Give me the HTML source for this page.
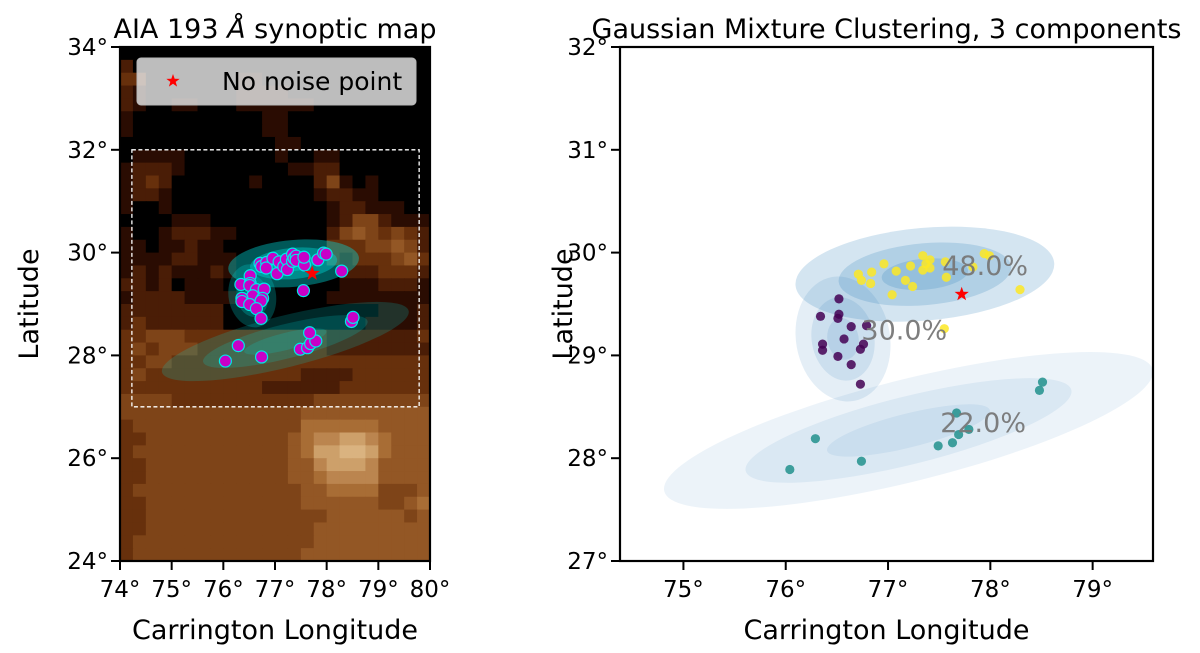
<!DOCTYPE html>
<html><head><meta charset="utf-8"><style>
html,body{margin:0;padding:0;background:#fff;}
svg{display:block;font-family:"DejaVu Sans","Liberation Sans",sans-serif;}
</style></head><body>
<svg id="fig" width="1200" height="653" viewBox="0 0 1200 653" xmlns="http://www.w3.org/2000/svg">
<defs>
<clipPath id="clipL"><rect x="120" y="47" width="310" height="514"/></clipPath>
<clipPath id="clipR"><rect x="620" y="47" width="533" height="514"/></clipPath>
</defs>
<g id="left"></g>
<g id="right"></g>
</svg>
<script>
// ---- data ----
const mapRows = [
"000000000000000000000000",
"200000000000000000000000",
"330000000110000000000000",
"210000000111100000000000",
"210011000111111000000000",
"100000000001100000000000",
"100000000001100000000000",
"000000000000110000000000",
"011110000000100110000000",
"122210000000011220000000",
"123200000010000241010000",
"122100000000000122110000",
"100100000000000012211100",
"000011100000000012442111",
"100122211000000024543432",
"110112110000000033344542",
"111122111000000032333453",
"121211121000000002223332",
"221201110000000001112221",
"122221111000000011111111",
"222222220000000000001112",
"232222220000000000011112",
"334443333333333322222223",
"343444333333333322222222",
"334433333333333333333333",
"343333333333332222333333",
"333333333332222223333333",
"444433333333333444444444",
"444444444444445555555555",
"344444444444446666665555",
"334444444444456778876555",
"344444444444456889986555",
"334444444444455788875555",
"334444444444455677775555",
"344444444444445566664445",
"334444444444445555554456",
"334444444444444455555545",
"334444444444444555555555",
"344444444444444555555555",
"344444444444445555555555"];
const mapColors = ["#000000","#2a0c02","#4a1d06","#67300c","#7e4418","#935725","#a86d35","#bb854f","#cda06a","#dab380"];

const yelLon = [76.71,76.74,76.84,76.83,76.96,77.04,77.08,77.17,77.22,77.24,77.34,77.34,77.37,77.41,77.41,77.57,77.56,77.83,77.94,77.99,78.29,77.55];
const yelLat = [29.79,29.73,29.81,29.70,29.89,29.59,29.82,29.73,29.87,29.67,29.97,29.83,29.89,29.93,29.85,29.76,29.91,29.86,29.99,29.97,29.64,29.26];
const purLon = [76.52,76.34,76.52,76.51,76.64,76.79,76.57,76.36,76.36,76.76,76.73,76.51,76.64,76.73];
const purLat = [29.55,29.38,29.40,29.36,29.28,29.29,29.16,29.11,29.05,29.11,29.06,28.99,28.91,28.72];
const tealLon = [76.29,76.04,76.74,77.49,77.63,77.69,77.79,77.67,78.48,78.51];
const tealLat = [28.19,27.89,27.97,28.12,28.15,28.23,28.28,28.44,28.66,28.74];
const starLon = 77.72, starLat = 29.595;

const compLon = [77.36, 76.56, 77.20];
const compLat = [29.79, 29.16, 28.27];
const compSx = [0.423, 0.153, 0.82];
const compSy = [0.151, 0.205, 0.166];
const compAng = [-5, -10, -14];
const compWeight = [0.48, 0.30, 0.22];
const compLabel = ["48.0%","30.0%","22.0%"];
const labelLon = [77.53, 76.74, 77.51];
const labelLat = [29.88, 29.25, 28.35];

const leftXTicks = [74,75,76,77,78,79,80];
const leftYTicks = [24,26,28,30,32,34];
const rightXTicks = [75,76,77,78,79];
const rightYTicks = [27,28,29,30,31,32];

// ---- axes ----
const L = {x0:120,x1:430,y0:47,y1:561,lon0:74,lon1:80,lat0:24,lat1:34};
const R = {x0:620,x1:1153,y0:47,y1:561,lon0:74.38,lon1:79.59,lat0:27,lat1:32};
function sx(A,lon){return A.x0+(lon-A.lon0)/(A.lon1-A.lon0)*(A.x1-A.x0);}
function sy(A,lat){return A.y1-(lat-A.lat0)/(A.lat1-A.lat0)*(A.y1-A.y0);}
const NS="http://www.w3.org/2000/svg";
function mk(tag,attrs,parent){const e=document.createElementNS(NS,tag);for(const k in attrs)e.setAttribute(k,attrs[k]);parent.appendChild(e);return e;}
function starPath(cx,cy,r){let d="";for(let i=0;i<10;i++){const rr=i%2?r*0.4:r;const a=-Math.PI/2+i*Math.PI/5;d+=(i?"L":"M")+(cx+rr*Math.cos(a)).toFixed(2)+","+(cy+rr*Math.sin(a)).toFixed(2);}return d+"Z";}

const gl=document.getElementById('left');
const gr=document.getElementById('right');

// ---- left map ----
const mapG=mk('g',{'clip-path':'url(#clipL)'},gl);


const nR=mapRows.length,nC=mapRows[0].length;
const cw=(L.x1-L.x0)/nC,ch=(L.y1-L.y0)/nR;
for(let r=0;r<nR;r++)for(let c=0;c<nC;c++){
  const cell=mk('rect',{x:(L.x0+c*cw).toFixed(2),y:(L.y0+r*ch).toFixed(2),width:(cw+0.6).toFixed(2),height:(ch+0.6).toFixed(2),fill:mapColors[+mapRows[r][c]]},mapG);
  
  
}
const box=mk('rect',{x:sx(L,74.23),y:sy(L,32),width:sx(L,79.79)-sx(L,74.23),height:sy(L,27)-sy(L,32),fill:'none',stroke:'#fff','stroke-width':1.3,'stroke-dasharray':'4,2.5'},mapG);



function drawEllipses(A,g,fillCol,alphaK){
  for(let i=0;i<compLon.length;i++){
    const cx=sx(A,compLon[i]),cy=sy(A,compLat[i]);
    const px=(A.x1-A.x0)/(A.lon1-A.lon0);
    for(let n=3;n>=1;n--){
      const e=mk('ellipse',{cx:cx,cy:cy,rx:compSx[i]*px*n,ry:compSy[i]*px*n,transform:`rotate(${compAng[i]} ${cx} ${cy})`,fill:fillCol,'fill-opacity':compWeight[i]*alphaK},g);
      
      
    }
  }
}
drawEllipses(L,mapG,'#00d8d8',0.85);
const allLon=yelLon.concat(purLon,tealLon), allLat=yelLat.concat(purLat,tealLat);
for(let i=0;i<allLon.length;i++){
  const p=mk('circle',{cx:sx(L,allLon[i]),cy:sy(L,allLat[i]),r:6,fill:'#c800c8',stroke:'#00e8e8','stroke-width':1.2},mapG);
  
  
}
const st=mk('path',{d:starPath(sx(L,starLon),sy(L,starLat),8),fill:'#ff0000'},mapG);



// legend
const lg=mk('g',{},gl);


mk('rect',{x:137,y:58,width:279,height:47,rx:4,fill:'#e6e6e6','fill-opacity':0.82,stroke:'#b8b8b8','stroke-width':1},lg);
mk('path',{d:starPath(173,81,7),fill:'#ff0000'},lg);
const lt=mk('text',{x:222,y:90,'font-size':25,fill:'#000'},lg);lt.textContent='No noise point';



// ---- right panel ----
const rg=mk('g',{'clip-path':'url(#clipR)'},gr);


drawEllipses(R,rg,'#1f77b4',0.4);
function pts(lons,lats,col,name){
  for(let i=0;i<lons.length;i++){
    const c=mk('circle',{cx:sx(R,lons[i]),cy:sy(R,lats[i]),r:4.6,fill:col,'fill-opacity':0.85},rg);
    
    
  }
}
pts(purLon,purLat,'#440154','cluster-point-purple');
pts(tealLon,tealLat,'#21918c','cluster-point-teal');
pts(yelLon,yelLat,'#fde725','cluster-point-yellow');
const st2=mk('path',{d:starPath(sx(R,starLon),sy(R,starLat),7.5),fill:'#ff0000'},rg);


for(let i=0;i<compLabel.length;i++){
  const t=mk('text',{x:sx(R,labelLon[i]),y:sy(R,labelLat[i])+10,'font-size':27,fill:'#777','fill-opacity':0.95},rg);
  t.textContent=compLabel[i];
  
  
}

// ---- axes frames, ticks, labels ----
function axes(A,g,xt,yt,title,tx){
  const fr=mk('rect',{x:A.x0,y:A.y0,width:A.x1-A.x0,height:A.y1-A.y0,fill:'none',stroke:'#000','stroke-width':2.2},g);
  
  
  xt.forEach(v=>{const x=sx(A,v);
    mk('line',{x1:x,x2:x,y1:A.y1,y2:A.y1+9,stroke:'#000','stroke-width':2},g);
    const t=mk('text',{x:x,y:A.y1+36,'font-size':23,'text-anchor':'middle'},g);t.textContent=v+'°';
    
    });
  yt.forEach(v=>{const y=sy(A,v);
    mk('line',{x1:A.x0-9,x2:A.x0,y1:y,y2:y,stroke:'#000','stroke-width':2},g);
    const t=mk('text',{x:A.x0-12,y:y+8,'font-size':23,'text-anchor':'end'},g);t.textContent=v+'°';
    
    });
  const cx=(A.x0+A.x1)/2,cy=(A.y0+A.y1)/2;
  const xl=mk('text',{x:cx,y:A.y1+78,'font-size':27,'text-anchor':'middle'},g);xl.textContent='Carrington Longitude';
  
  
  const yl=mk('text',{x:tx,y:cy,'font-size':27,'text-anchor':'middle',transform:`rotate(-90 ${tx} ${cy})`},g);yl.textContent='Latitude';
  
  
  const tt=mk('text',{x:cx,y:38,'font-size':27,'text-anchor':'middle'},g);tt.innerHTML=title;
  
  
}
axes(L,gl,leftXTicks,leftYTicks,'AIA 193 <tspan font-style="italic">Å</tspan> synoptic map',38);
axes(R,gr,rightXTicks,rightYTicks,'Gaussian Mixture Clustering, 3 components',572);
</script>
</body></html>
